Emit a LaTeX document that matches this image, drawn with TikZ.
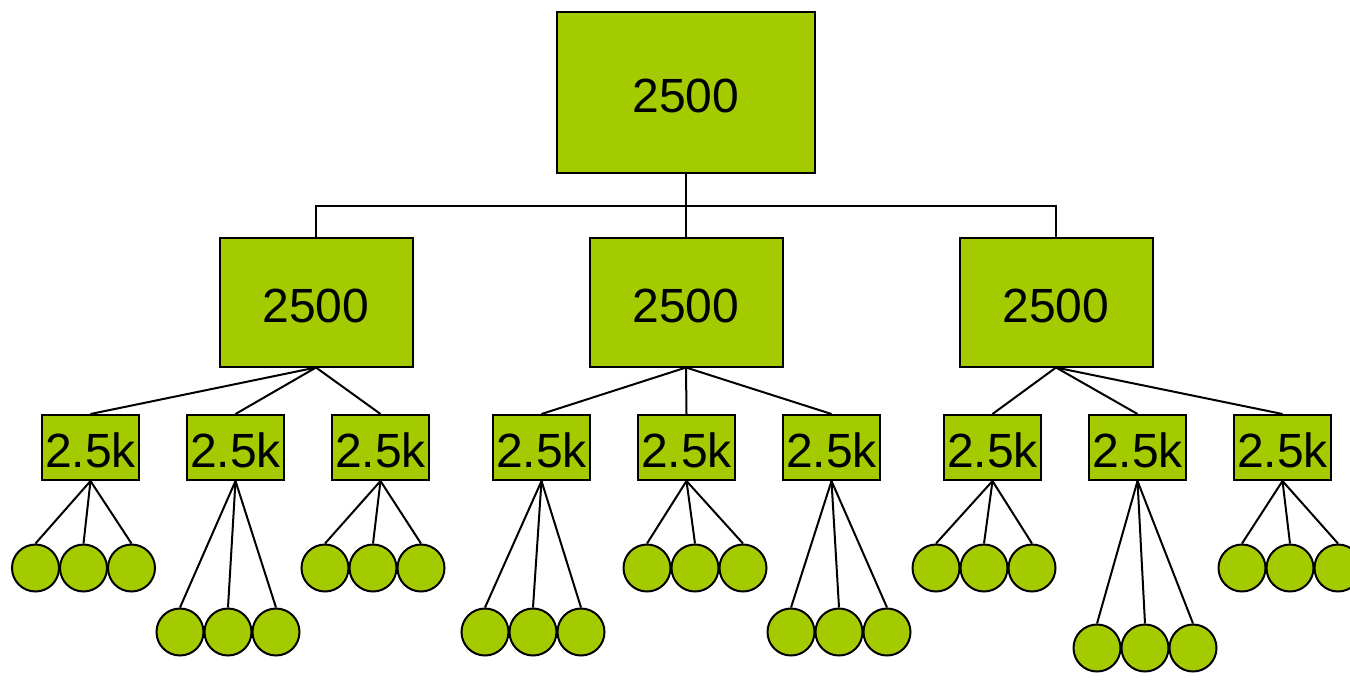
\documentclass[tikz,border=0pt]{standalone}
\usepackage{fontspec}
\setmainfont{Liberation Sans}
\definecolor{leafgreen}{RGB}{164,202,0}
\tikzset{
  box/.style={draw,fill=leafgreen,line width=1pt,inner sep=0pt,text height=20.2pt,text depth=0pt,
    font=\fontsize{24}{28}\selectfont},
  bigbox/.style={box,minimum width=129pt,minimum height=80.5pt},
  midbox/.style={box,minimum width=96.5pt,minimum height=64.5pt},
  smallbox/.style={box,minimum width=48.5pt,minimum height=32.5pt},
  ball/.style={circle,draw,fill=leafgreen,line width=1pt,minimum size=23.5pt,inner sep=0pt},
}
\begin{document}
\begin{tikzpicture}[x=0.5pt,y=-0.5pt,line width=1pt]
\useasboundingbox (0,0) rectangle (1350,686);
\node[bigbox] (root) at (686,92.5) {2500};
\foreach \i/\x in {1/316,2/686,3/1056}{
  \node[midbox] (m\i) at (\x,302) {2500};
  \draw (root.south) -- ++(0,32) -| (m\i.north);
}
\foreach \i/\x/\p/\dx/\y in {1/90.5/1/-7/568,2/235.5/1/-7.5/632,3/380.5/1/-7.5/568,
  4/541.5/2/-8.5/632,5/686.5/2/8.5/568,6/831.5/2/7.5/632,
  7/992.5/3/-8.5/568,8/1137.5/3/7.5/648,9/1282.5/3/7.5/568}{
  \node[smallbox] (s\i) at (\x,447.5) {2.5k};
  \draw (m\p.south) -- (s\i.north);
  \foreach \j/\k in {a/-1,b/0,c/1}{
    \node[ball] (c\i\j) at (\x+\dx+48*\k,\y) {};
    \draw (s\i.south) -- (c\i\j.north);
  }
}
\end{tikzpicture}
\end{document}
